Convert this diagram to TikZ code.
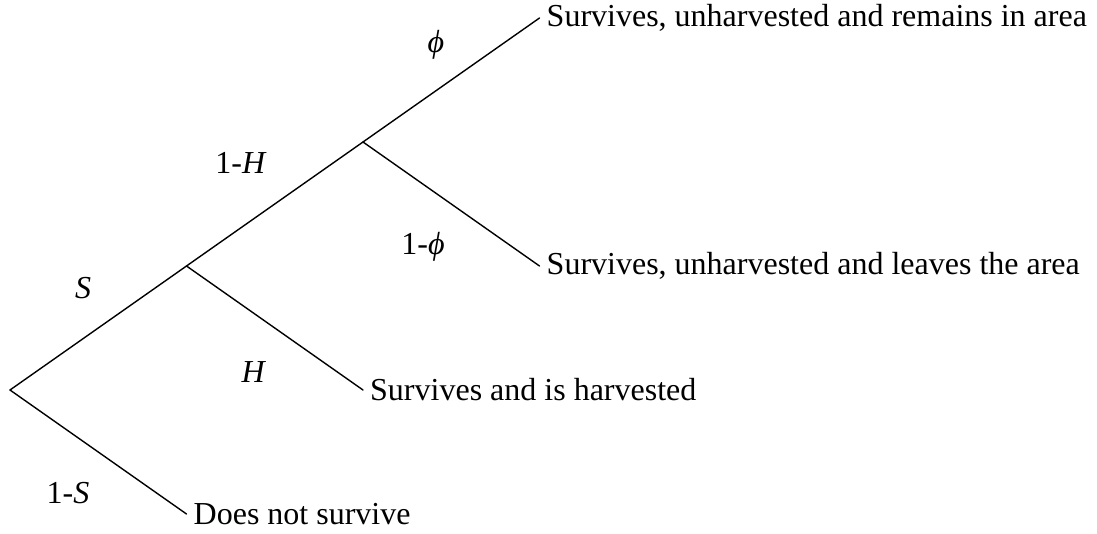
\documentclass[tikz,border=0pt]{standalone}
\usepackage{fontspec}
\setmainfont{Liberation Serif}
\usepackage{tikz}
\usetikzlibrary{calc}

\begin{document}
\begin{tikzpicture}[x=1pt, y=-1pt, line cap=round, line join=round,
  font=\fontsize{32}{38}\selectfont]

  \def\dx{176.5}      % horizontal step of one branch
  \def\dy{124}        % vertical step of one branch

  \tikzset{
    outcome/.style={anchor=west, inner xsep=7pt, inner ysep=3pt},
    prob/.style={inner sep=0pt},
    branch/.style={line width=1.4pt}
  }

  \useasboundingbox (0,0) rectangle (1097,534);

  % Branch points
  \coordinate (root) at (10,390);
  \coordinate (surv) at ($(root)+(\dx,-\dy)$);
  \coordinate (unharv) at ($(surv)+(\dx,-\dy)$);

  % Outcomes
  \node[outcome] (remain) at ($(unharv)+(\dx,-\dy)$) {Survives, unharvested and remains in area};
  \node[outcome] (leave)  at ($(unharv)+(\dx,\dy)$)  {Survives, unharvested and leaves the area};
  \node[outcome] (harv)   at ($(surv)+(\dx,\dy)$)    {Survives and is harvested};
  \node[outcome] (dead)   at ($(root)+(\dx,\dy)$)    {Does not survive};

  % Branches
  \draw[branch] (root) -- (surv) -- (unharv) -- (remain.west);
  \draw[branch] (unharv) -- (leave.west);
  \draw[branch] (surv) -- (harv.west);
  \draw[branch] (root) -- (dead.west);

  % Probabilities
  \node[prob] (pS)    at (83,288)  {\textit{S}};
  \node[prob] (pnS)   at (68,493)  {1-\textit{S}};
  \node[prob] (pH)    at (254,372) {\textit{H}};
  \node[prob] (pnH)   at (241,163) {1-\textit{H}};
  \node[prob] (pphi)  at (436,45)  {\textit{ϕ}};
  \node[prob] (pnphi) at (423,247) {1-\textit{ϕ}};

\end{tikzpicture}
\end{document}
